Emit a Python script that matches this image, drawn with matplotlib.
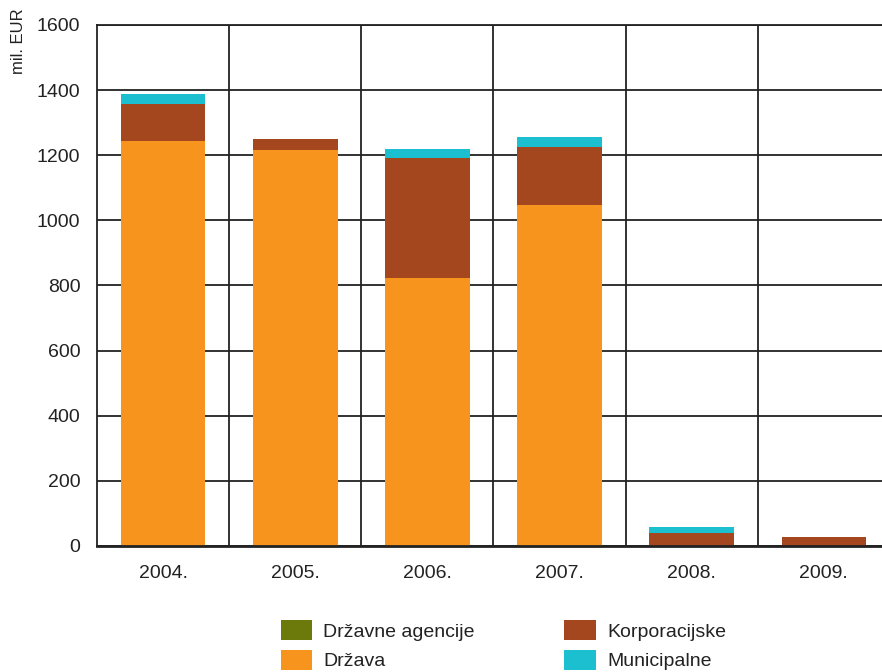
import matplotlib.pyplot as plt
import numpy as np
from matplotlib.patches import Patch

years = ["2004.", "2005.", "2006.", "2007.", "2008.", "2009."]
agencije = [0, 0, 0, 0, 0, 0]
drzava = [1245, 1217, 823, 1046, 0, 0]
korporacijske = [113, 33, 370, 179, 39, 27]
municipalne = [31, 0, 25, 32, 18, 0]

series = [("Državne agencije", agencije, "#6b7a0a"),
          ("Država", drzava, "#f7941d"),
          ("Korporacijske", korporacijske, "#a5471e"),
          ("Municipalne", municipalne, "#1bbfd0")]

plt.rcParams['font.family'] = ['Liberation Sans', 'DejaVu Sans']

fig = plt.figure(figsize=(8.82, 6.72), dpi=100)
ax = fig.add_axes([0.110, 0.1875, 0.899, 0.7753])

x = np.arange(len(years))
bottom = np.zeros(len(years))
for name, vals, col in series:
    vals = np.array(vals, dtype=float)
    ax.bar(x, vals, 0.64, bottom=bottom, color=col, zorder=3, linewidth=0)
    bottom += vals

ax.set_xlim(-0.5, 5.5)
ax.set_ylim(0, 1600)
ax.set_yticks(range(0, 1601, 200))
ax.set_xticks(x)
ax.set_xticklabels(years)
ax.set_xticks(np.arange(0.5, 5.5, 1), minor=True)
ax.grid(True, which='major', axis='y', color='#222222', lw=1.3, zorder=1)
ax.grid(True, which='minor', axis='x', color='#222222', lw=1.3, zorder=1)
ax.tick_params(which='both', length=0, labelsize=14, colors='#222222')
ax.tick_params(axis='x', pad=14)
ax.tick_params(axis='y', pad=12)
for s in ax.spines.values():
    s.set_color('#222222')
    s.set_linewidth(1.3)
ax.spines['bottom'].set_linewidth(2)
ax.spines['bottom'].set_zorder(4)

fig.text(0.021, 0.988, "mil. EUR", rotation=90, ha='center', va='top',
         fontsize=12, color='#222222')

handles = [Patch(facecolor=c, label=n) for n, v, c in series]
fig.legend(handles=handles, ncol=2, loc='upper left', bbox_to_anchor=(0.305, 0.094),
           frameon=False, fontsize=14, handlelength=1.6, handleheight=1.2,
           columnspacing=4.6, labelspacing=0.45, handletextpad=0.6,
           labelcolor='#222222', borderaxespad=0.2)

fig.savefig("out.png", dpi=100)
